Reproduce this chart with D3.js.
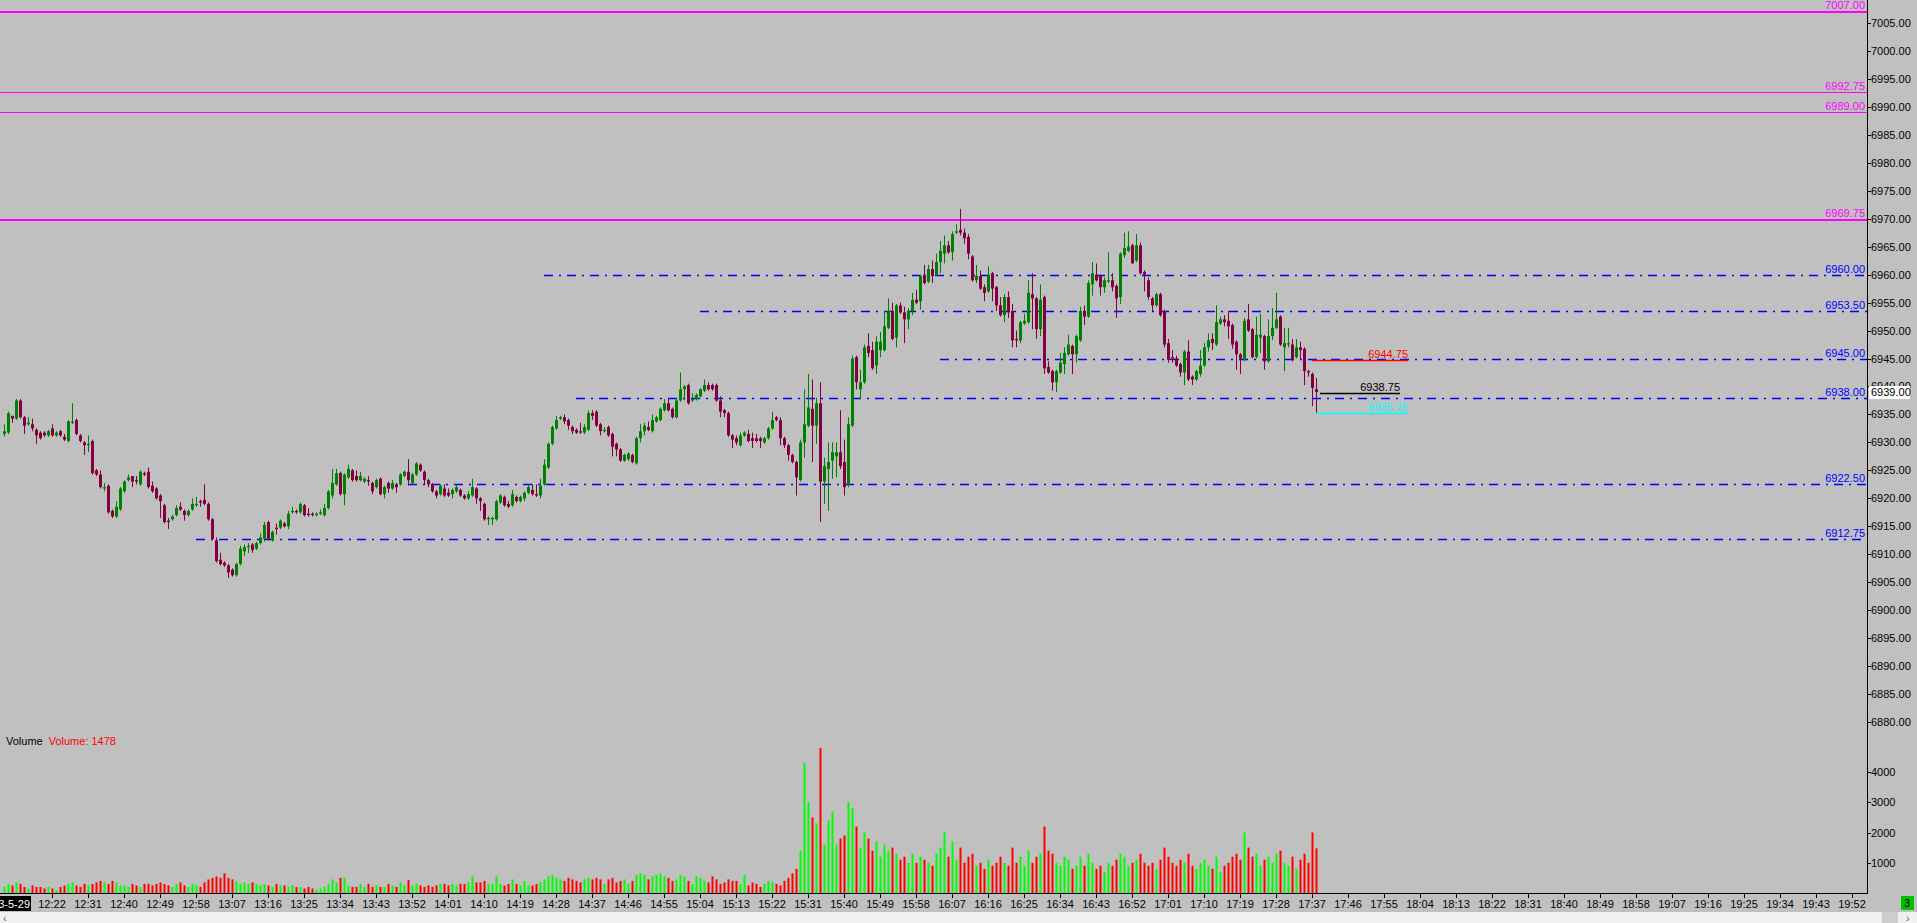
<!DOCTYPE html>
<html><head><meta charset="utf-8">
<script src="https://cdn.jsdelivr.net/npm/d3@7"></script>
<style>
html,body{margin:0;padding:0;background:#c0c0c0;overflow:hidden}
svg{display:block}
text{font-family:"Liberation Sans",Arial,sans-serif;font-size:11px}
</style></head><body>
<svg id="c" width="1917" height="923"></svg>
<script>
const sessionDate = "2023-5-29";
const firstBarTime = "12:10";
const opens = [6931.5,6931.75,6934.75,6934.25,6937.5,6934.5,6933.25,6933.25,6932.25,6931.75,
6931.75,6931.25,6932.5,6931.25,6932,6931,6930.25,6933.5,6934,6931.25,
6930,6929.5,6930.25,6925,6924.25,6921.75,6922.25,6917.75,6916.75,6918,
6921.25,6923.25,6924,6923.25,6922.5,6924.5,6924.75,6922.25,6921.75,6920.5,
6918.75,6916,6916.25,6917,6918.5,6917.75,6917,6918,6918.75,6919.5,
6919.75,6919,6916.25,6912.5,6909,6908.5,6908,6907.25,6906.25,6908.25,
6910.5,6911.25,6911.75,6911,6912,6912.75,6915.75,6912.5,6914.75,6914.75,
6915.5,6915,6917.5,6917.75,6917.5,6918.75,6917.25,6917.25,6917,6917.25,
6917,6918.25,6920.5,6922.5,6924.5,6920.75,6923.75,6925,6924,6923.25,
6923,6923.25,6922.75,6922,6923.5,6920.75,6922.75,6921.75,6922.5,6922.5,
6924,6924.75,6922.75,6924.25,6926,6924.75,6923.25,6922.5,6921.25,6920.75,
6921.75,6921,6920.75,6921.25,6921.5,6920.5,6920,6920.5,6921.75,6920,
6919,6916.25,6916.25,6916.25,6919.25,6920.25,6919,6918.75,6920.25,6919.5,
6920,6921,6921.5,6920.75,6920.5,6922.5,6925.5,6929.75,6932.5,6934.25,
6934.5,6934,6932.75,6932.25,6932,6931.75,6932.25,6935.25,6935.5,6933.25,
6932,6932.75,6931.5,6929.75,6928.75,6926.75,6927,6927.75,6926.25,6930.75,
6932,6932.75,6932,6933.75,6934,6935.75,6937,6936,6934.5,6937.5,
6939.5,6940.25,6937.5,6937.75,6938.25,6939.25,6940.25,6940.25,6940.25,6937.5,
6935.75,6935.25,6931.25,6930.75,6929.5,6931.25,6931.5,6930.75,6930.75,6930.75,
6930,6930.75,6932.5,6934.5,6934,6930.75,6929.5,6927.75,6926.5,6923.25,
6930,6933,6936,6933,6937,6923,6925.25,6926.75,6927.5,6928.25,
6926.5,6922.5,6933,6945.25,6939.5,6940.75,6947.25,6946.5,6943.75,6946.5,
6946.5,6950.5,6953.5,6948.75,6954.5,6953.25,6952,6953.5,6955.5,6955.25,
6960,6958.75,6961,6960,6962.25,6963.75,6965.25,6964,6967.5,6968,
6967.5,6966.75,6963.25,6959,6959.75,6957.75,6957,6960.25,6957.75,6954.5,
6952.75,6956,6953.5,6948.5,6948.25,6951.25,6951.5,6956.5,6955.75,6950.25,
6956,6943.5,6942.75,6940.75,6942.5,6944,6945.75,6947.25,6945.75,6948.25,
6953.5,6952.5,6958.25,6960,6959.75,6957.75,6958.75,6959,6958,6956,
6963.5,6964.25,6965.25,6962.5,6965.25,6960.5,6959,6955.75,6954.5,6956.5,
6953.5,6947.75,6945.25,6945,6944,6942.5,6946.25,6941.75,6941.25,6942.25,
6943.75,6947,6948.5,6947.5,6951.25,6952,6951.75,6951,6948,6945.75,
6944.75,6952,6950.25,6945.25,6948.75,6949,6944.5,6949,6950.5,6952.5,
6947,6947.5,6947.5,6945.25,6947,6946.75,6942.75,6942.25,6939.5];
const highs = [6933.25,6935.5,6934.75,6937.75,6937.75,6934.75,6934.5,6934.25,6932.5,6932,
6932,6932.25,6933.25,6932,6932.25,6931.5,6934,6937,6934.25,6931.5,
6930.25,6931.25,6930.5,6925.25,6925,6922.75,6922.5,6918,6919.5,6922,
6923.25,6924.25,6924,6924,6925,6924.75,6925.5,6923,6922,6920.75,
6919,6916.5,6917,6918.75,6919.25,6918,6918,6920,6920.25,6919.75,
6922.5,6919.25,6916.5,6913,6910.25,6908.75,6908.25,6907.5,6908.5,6911.5,
6911.75,6912,6912,6912.25,6913.75,6915.75,6916,6914.25,6915.5,6916.25,
6915.75,6917.75,6918.5,6918,6919.25,6919,6918.25,6917.5,6917.5,6918,
6919,6921.5,6925.25,6925.25,6924.75,6924.5,6926,6925.25,6925,6924.75,
6923.75,6924,6923,6923.5,6923.75,6922.25,6923,6923.25,6922.75,6924.5,
6925,6927,6924.5,6926.5,6926.25,6925,6923.5,6922.75,6921.5,6922.5,
6922.5,6921.75,6921.75,6922.5,6921.75,6920.75,6921.25,6923.5,6922,6920.25,
6919.25,6916.75,6916.75,6919.75,6920.75,6920.5,6919.5,6921.5,6920.5,6920.5,
6921.25,6922.5,6922.5,6922.5,6923.5,6927,6930,6933,6934.75,6934.75,
6935,6934.25,6933,6932.5,6933.5,6933.25,6935.75,6935.75,6935.75,6933.5,
6932.75,6933,6931.75,6930,6929,6928,6928.25,6928,6931,6933.25,
6933.5,6933.75,6935,6934.75,6936.25,6937.75,6937.75,6936.25,6937.75,6942.5,
6940.25,6940.5,6938.75,6938.75,6939.75,6941.25,6940.75,6940.5,6940.5,6938.25,
6936,6935.5,6931.5,6931.25,6931.75,6932,6932.25,6931.75,6931.5,6931,
6931,6932.75,6935.5,6934.75,6934.5,6931,6929.75,6928,6926.75,6930.5,
6939.5,6942.25,6941.25,6938,6940.75,6927.25,6930,6930,6930,6935.75,
6930.5,6934.5,6945.5,6945.5,6943,6947.5,6949.5,6948,6949,6949.75,
6953.5,6955.75,6955,6954.75,6955,6954.25,6954,6956.75,6957.25,6960,
6961.75,6961.75,6962.5,6963.75,6966,6967,6966,6967.75,6969,6971.75,
6968.25,6967.25,6963.5,6961.75,6960.75,6958.25,6961.5,6960.5,6958,6956,
6956.5,6957,6954.75,6950,6951.75,6953,6959,6960.25,6956,6958.25,
6956.25,6944.5,6943,6943,6946,6947,6949.25,6947.5,6949.25,6954.25,
6954.5,6959,6962.25,6962,6960,6959.5,6964,6960.25,6958.25,6964,
6967.5,6967.75,6965.5,6967.25,6965.75,6960.75,6959.5,6956,6956.75,6956.75,
6953.75,6948.5,6946.5,6945.5,6944.25,6946.5,6948.25,6942,6943,6946.5,
6947.75,6949.5,6949.5,6954.5,6952.5,6952.75,6953.5,6951.25,6948.25,6946,
6952.25,6954.75,6950.5,6952.5,6953,6949.25,6952,6954,6956.75,6952.75,
6950.5,6950.5,6948.5,6948.5,6948,6947,6943,6942.5,6941.5];
const lows = [6931,6931.5,6933.5,6934,6934.25,6931.5,6933,6932,6929.75,6930.5,
6931,6931,6931,6931,6931,6930.25,6930,6933.25,6931.25,6930,
6927.75,6928.25,6924.25,6924,6921.75,6921.25,6917.25,6916.5,6916.5,6917.75,
6921,6923,6922,6922.5,6922.25,6924,6921.75,6921,6919.75,6916.5,
6915.5,6914.5,6916,6916.75,6917.75,6916,6916.75,6917.75,6918.5,6918.5,
6918.75,6916,6912.5,6908.5,6908,6907.75,6905.75,6906,6906,6908,
6909.75,6910.25,6910.25,6910.75,6911.75,6912.25,6912.5,6912.25,6913.5,6914.5,
6914.75,6914.5,6917.25,6917.25,6917.25,6916.75,6916.75,6916.75,6916.75,6917,
6916.75,6918,6920,6922.25,6920.5,6918.75,6923.5,6923,6923,6923,
6922.75,6922.25,6920.75,6921.75,6920.5,6920,6921,6921.5,6921,6922.25,
6923.75,6922.25,6922.5,6924,6924.75,6922.5,6922,6921,6920,6920.5,
6920.25,6920.25,6920,6921,6920.25,6919.75,6919.75,6920.25,6919,6917.75,
6916,6915.25,6915.25,6916,6919,6918.5,6918.25,6918.5,6919.25,6919.25,
6919.5,6920.75,6920.5,6920.25,6920,6922.25,6925.25,6929.5,6932.25,6934,
6933.25,6932.25,6931.5,6931.5,6931.5,6931.5,6932,6934,6932.75,6931.25,
6931.75,6931,6927.5,6927.5,6926.5,6926.5,6926.75,6926.25,6926,6930,
6931.25,6932,6931.75,6933.5,6933.75,6935.5,6935.5,6934.25,6934.25,6937.25,
6937.5,6936.75,6937.25,6937.5,6938,6939,6939.25,6939.25,6937.25,6934.5,
6934.5,6931,6929,6929.5,6929.25,6931,6930,6929,6930,6929,
6929.75,6930.5,6932.25,6933.75,6929.5,6929,6926.75,6926.25,6920.5,6923,
6927.25,6932.75,6926.5,6929.75,6915.75,6919,6917.75,6923.5,6923.75,6925.25,
6920.5,6922,6932.75,6939.5,6937.75,6940.5,6945.25,6943,6942.25,6945.25,
6946.25,6950.25,6948.25,6947,6953,6947.75,6950.25,6952.75,6954.75,6953.75,
6958.25,6958.5,6958.5,6959.75,6960.25,6962,6963.75,6962.5,6967.25,6967,
6965.5,6962.75,6958.75,6958.5,6957.25,6955.25,6956.75,6955.25,6953.5,6952.5,
6951.5,6952.25,6947,6947,6947.75,6951,6951.25,6950.25,6948.5,6949,
6942.25,6942.25,6939.25,6939,6942.25,6942.25,6945.5,6942.25,6944.25,6948,
6951,6952.25,6956.25,6958.75,6956.25,6956.75,6958.5,6957,6952.25,6954.75,
6963,6964,6962,6962.25,6960,6957,6955.5,6953.5,6954.25,6952.5,
6947,6944.25,6944.25,6943.5,6941.75,6940.25,6941,6940.25,6941,6941.75,
6943.5,6946.25,6946.5,6947.25,6951,6950.75,6948.5,6946.75,6943,6942.25,
6944.5,6949.75,6945,6945,6946,6943,6944.25,6948.25,6950.25,6947.25,
6942.75,6947,6944.5,6945,6944.75,6940.25,6941.75,6936.5,6935.25];
const closes = [6932,6935.25,6934.25,6937.5,6934.5,6933,6933.5,6932.5,6931.25,6930.75,
6931.25,6932,6931.25,6931.75,6931.25,6930.5,6933.75,6933.75,6931.5,6930.25,
6929.5,6929.75,6924.5,6924.25,6922,6922,6917.5,6916.75,6918.5,6921.75,
6923,6923.75,6923,6923,6924.75,6924.25,6922,6921.25,6920,6919.5,
6915.75,6915.75,6916.75,6918.25,6918,6917,6917.75,6919,6919,6919.25,
6919,6916.25,6912.75,6908.75,6908.25,6908,6906.75,6906.25,6908.25,6911,
6911.25,6911.5,6910.75,6912,6913,6915.25,6912.75,6914,6914.5,6916,
6915,6917.25,6917.75,6917.5,6919,6917,6917,6917,6917.25,6917.5,
6918.25,6921.25,6922.75,6924.5,6920.75,6924.25,6925.25,6923.25,6923.25,6924,
6923.5,6923,6921.25,6923.25,6920.75,6922,6921.75,6922.75,6922,6924.25,
6924.75,6923.25,6924.25,6926.25,6925,6923.25,6922.5,6921.25,6920.5,6922.25,
6920.5,6920.5,6921.5,6922,6920.5,6920,6920.75,6922,6920,6919.5,
6916.25,6916.5,6916.5,6919.5,6920.5,6918.75,6918.5,6920.75,6919.5,6920.25,
6921,6922,6920.75,6920.5,6922.25,6926,6929.75,6932.75,6934,6934.5,
6933.75,6933,6932,6931.75,6931.75,6932.75,6935.25,6934.75,6933,6932,
6932.25,6931.25,6929.25,6928.75,6926.75,6927.75,6928,6926.5,6930.75,6932,
6933,6932.25,6934,6934.5,6936,6937,6935.75,6934.5,6937.5,6939.5,
6940,6937,6937.75,6938.5,6939.5,6940.25,6939.5,6939.5,6937.5,6935.5,
6935.25,6931.25,6930.5,6930,6931.25,6931.75,6930.25,6930.25,6930.25,6930.25,
6930.75,6932.5,6934,6934,6930.75,6929.5,6927.75,6926.5,6923.75,6930,
6933.25,6936.25,6933,6937,6923,6925.75,6926.5,6928.25,6928.25,6925.75,
6922,6933.25,6945,6940.75,6940.75,6947,6946,6943.25,6948,6948,
6950.75,6953.5,6948.5,6954.5,6953.25,6952,6953.5,6955.5,6955,6959.75,
6958.5,6961,6959.75,6962.25,6964.25,6965.25,6964,6967.25,6967.75,6967.5,
6966.5,6963.75,6959,6959.75,6957.5,6956.75,6960,6957.5,6954.5,6952.75,
6956,6953.25,6948.25,6948.25,6951.5,6951.75,6956.75,6955.75,6950.25,6955.5,
6943.25,6942.5,6940.75,6942.75,6944.25,6946,6947.5,6945.75,6949,6953.5,
6952.5,6958.5,6960.25,6959,6957.75,6959,6959,6957.75,6955.75,6963.75,
6964.75,6965,6962,6965.25,6960.25,6960,6956,6954.5,6956.5,6952.75,
6947.5,6944.75,6945,6943.75,6942.5,6946.25,6941.25,6941.25,6942.75,6943.75,
6947,6948.25,6947.75,6951.5,6952,6951.5,6950.75,6947.5,6945.75,6945,
6951.75,6950,6945.25,6949.25,6949.25,6944.5,6949,6950.5,6952,6947.5,
6947.75,6947.75,6944.75,6947,6946.5,6942.75,6942.5,6939.75,6939];
const volumes = [200,300,250,350,300,200,150,250,200,200,
150,200,150,100,200,250,300,350,250,200,
300,250,300,350,400,350,300,400,350,250,
250,200,300,250,200,300,300,250,300,350,
300,250,200,300,350,250,200,300,250,200,
350,450,500,550,500,650,500,450,400,300,
350,300,350,300,250,300,250,200,300,250,
250,200,250,200,200,150,200,150,100,150,
200,300,450,350,500,500,250,200,200,300,
200,300,200,250,200,200,300,250,200,350,
250,430,250,300,250,200,250,200,250,300,
300,250,300,250,300,300,350,550,350,350,
400,300,300,550,300,250,300,450,300,250,
400,250,250,300,350,450,550,600,500,450,
400,500,450,400,350,450,500,450,500,450,
300,450,500,350,400,450,300,400,600,650,
600,450,550,600,650,550,500,400,450,600,
550,400,300,550,500,400,350,550,450,300,
350,450,400,400,300,600,250,350,300,200,
300,400,350,300,250,400,500,650,800,1400,
4300,3000,2500,2300,4800,1600,2400,2700,1600,1800,
1900,3000,2800,2200,1500,2000,1800,1400,1700,1200,
1600,1400,1500,1300,1100,1200,1000,1300,1000,1200,
1100,1000,900,1300,1500,2000,1200,1700,1100,1500,
1000,1200,1300,900,1000,800,1100,900,1000,1200,
1000,900,1500,1000,1200,900,1400,1000,1200,1300,
2200,1400,1300,1000,900,1200,1100,800,900,1200,
900,1300,1000,800,900,700,1000,900,1100,1300,
1200,900,1000,1100,1300,1000,900,1000,800,1100,
1500,1200,1000,900,1100,1000,1300,900,800,1000,
1100,900,800,1200,700,900,1000,1200,1300,1100,
2000,1500,1200,1300,900,1100,1200,1000,1300,1400,
1000,900,1200,800,1100,1300,1000,2000,1478];

const timeLabels = ["12:22","12:31","12:40","12:49","12:58","13:07","13:16","13:25","13:34","13:43","13:52",
"14:01","14:10","14:19","14:28","14:37","14:46","14:55","15:04","15:13","15:22","15:31","15:40","15:49",
"15:58","16:07","16:16","16:25","16:34","16:43","16:52","17:01","17:10","17:19","17:28","17:37","17:46",
"17:55","18:04","18:13","18:22","18:31","18:40","18:49","18:58","19:07","19:16","19:25","19:34","19:43","19:52"];
const priceTicks = [6880,6885,6890,6895,6900,6905,6910,6915,6920,6925,6930,6935,6940,6945,6950,6955,6960,6965,6970,6975,6980,6985,6990,6995,7000,7005];
const volumeTicks = [1000,2000,3000,4000];

const magentaLevels = [7007.00, 6992.75, 6989.00, 6969.75];
const blueLevels = [6960.00, 6953.50, 6945.00, 6938.00, 6922.50, 6912.75];
const blueLevelStarts = ["14:25","15:04","16:04","14:33","13:51","12:58"];
const markerLevels = [6944.75, 6938.75, 6935.25];
const lastPrice = 6939.00;
const lastVolume = 1478;

const toMin = s => { const [h,m] = s.split(":").map(Number); return h*60+m; };
const t0 = toMin(firstBarTime);

const svg = d3.select("#c");
const W = 1917, H = 923, axisX = 1867, axisY = 893;

const x = d3.scaleLinear().domain([t0, toMin("19:52")]).range([4, 4 + 4*(toMin("19:52")-t0)]);
const y = d3.scaleLinear().domain([6880, 7005]).range([722, 23]);
const yv = d3.scaleLinear().domain([0, 4000]).range([axisY, 772]);

svg.append("rect").attr("width", W).attr("height", H).attr("fill", "#c0c0c0");

svg.append("clipPath").attr("id","plot").append("rect").attr("x",0).attr("y",0).attr("width",axisX).attr("height",axisY);
const plot = svg.append("g").attr("clip-path","url(#plot)");

// magenta levels
const magStyle = [2,1,1,2];
magentaLevels.forEach((p,k)=>{
  const yy = Math.round(y(p)) + (magStyle[k]===1?0.5:0);
  plot.append("line").attr("x1",0).attr("x2",axisX).attr("y1",yy).attr("y2",yy)
    .attr("stroke","#ff00ff").attr("stroke-width",magStyle[k]);
  plot.append("text").attr("x",axisX-2).attr("y",yy-3).attr("text-anchor","end")
    .attr("fill","#ff00ff").text(p.toFixed(2));
});
// blue dash-dot levels
blueLevels.forEach((p,k)=>{
  const yy = Math.round(y(p)) + 0.5;
  plot.append("line").attr("x1",x(toMin(blueLevelStarts[k]))).attr("x2",axisX).attr("y1",yy).attr("y2",yy)
    .attr("stroke","#0000ff").attr("stroke-width",1.4).attr("stroke-dasharray","9,6,2,6");
  plot.append("text").attr("x",axisX-2).attr("y",yy-3).attr("text-anchor","end")
    .attr("fill","#0000ff").text(p.toFixed(2));
});

// candles
const data = opens.map((o,i)=>({t:t0+i,o,h:highs[i],l:lows[i],c:closes[i],v:volumes[i]}));
const up = d => d.c >= d.o;
const cg = plot.append("g");
cg.selectAll("line.w").data(data).join("line").attr("class","w")
  .attr("x1",d=>Math.round(x(d.t))+0.5).attr("x2",d=>Math.round(x(d.t))+0.5)
  .attr("y1",d=>y(d.h)).attr("y2",d=>y(d.l))
  .attr("stroke",d=>up(d)?"#008000":"#800040").attr("stroke-width",1);
cg.selectAll("rect.b").data(data).join("rect").attr("class","b")
  .attr("x",d=>Math.round(x(d.t))-1).attr("width",3)
  .attr("y",d=>y(Math.max(d.o,d.c)))
  .attr("height",d=>Math.max(1, Math.abs(y(d.o)-y(d.c))))
  .attr("fill",d=>up(d)?"#008000":"#800040");

// volume
plot.append("g").selectAll("rect").data(data).join("rect")
  .attr("x",d=>Math.round(x(d.t))-0.5).attr("width",2)
  .attr("y",d=>yv(d.v)).attr("height",d=>axisY - yv(d.v))
  .attr("fill",d=>up(d)?"#00ff00":"#ff0000");

// marker levels near last bar
const markerColors = ["#ff0000","#000000","#00ffff"];
const markerSpan = [["17:37","18:01"],["17:39","17:59"],["17:38","18:01"]];
markerLevels.forEach((p,k)=>{
  const yy = Math.round(y(p))+0.5;
  plot.append("line").attr("x1",x(toMin(markerSpan[k][0]))).attr("x2",x(toMin(markerSpan[k][1])))
    .attr("y1",yy).attr("y2",yy).attr("stroke",markerColors[k]).attr("stroke-width",1.5);
  plot.append("text").attr("x",x(toMin(markerSpan[k][1]))).attr("y",yy-3).attr("text-anchor","end")
    .attr("fill",markerColors[k]).attr("font-size","12px").text(p.toFixed(2));
});

// volume label
const vl = svg.append("text").attr("x",6).attr("y",745);
vl.append("tspan").attr("fill","#000").text("Volume");
vl.append("tspan").attr("fill","#ff0000").attr("dx",6).text("Volume: " + lastVolume);

// right axis
svg.append("line").attr("x1",axisX+0.5).attr("x2",axisX+0.5).attr("y1",0).attr("y2",axisY+0.5).attr("stroke","#000");
const ra = svg.append("g");
ra.selectAll("line.pt").data(priceTicks).join("line").attr("class","pt")
  .attr("x1",axisX).attr("x2",axisX+4).attr("y1",d=>Math.round(y(d))+0.5).attr("y2",d=>Math.round(y(d))+0.5).attr("stroke","#000");
ra.selectAll("text.pt").data(priceTicks).join("text").attr("class","pt")
  .attr("x",axisX+4).attr("y",d=>y(d)+4).attr("fill","#000").text(d=>d.toFixed(2));
ra.selectAll("line.vt").data(volumeTicks).join("line").attr("class","vt")
  .attr("x1",axisX).attr("x2",axisX+4).attr("y1",d=>Math.round(yv(d))+0.5).attr("y2",d=>Math.round(yv(d))+0.5).attr("stroke","#000");
ra.selectAll("text.vt").data(volumeTicks).join("text").attr("class","vt")
  .attr("x",axisX+4).attr("y",d=>yv(d)+4).attr("fill","#000").text(d=>d);
// last price box
svg.append("rect").attr("x",axisX+2).attr("y",y(lastPrice)-6).attr("width",41).attr("height",13).attr("fill","#fff");
svg.append("text").attr("x",axisX+4).attr("y",y(lastPrice)+4).attr("fill","#000").text(lastPrice.toFixed(2));

// bottom axis
svg.append("line").attr("x1",0).attr("x2",axisX+1).attr("y1",axisY+0.5).attr("y2",axisY+0.5).attr("stroke","#000");
const ba = svg.append("g");
ba.selectAll("line").data(timeLabels).join("line")
  .attr("x1",d=>Math.round(x(toMin(d)))+0.5).attr("x2",d=>Math.round(x(toMin(d)))+0.5)
  .attr("y1",axisY).attr("y2",axisY+5).attr("stroke","#000");
ba.selectAll("text").data(timeLabels).join("text")
  .attr("x",d=>x(toMin(d))).attr("y",axisY+15).attr("text-anchor","middle").attr("fill","#000").text(d=>d);
// date tag
svg.append("clipPath").attr("id","dclip").append("rect").attr("x",0).attr("y",896).attr("width",31).attr("height",15);
const dg = svg.append("g").attr("clip-path","url(#dclip)");
dg.append("rect").attr("x",0).attr("y",896).attr("width",31).attr("height",15).attr("fill","#000");
dg.append("text").attr("x",30).attr("y",908).attr("text-anchor","end").attr("fill","#fff").text(sessionDate);

// bottom scroll strip
svg.append("rect").attr("x",0).attr("y",912).attr("width",W).attr("height",11).attr("fill","#f0f0f0");
svg.append("text").attr("x",3).attr("y",922).attr("fill","#606060").text("‹");
svg.append("rect").attr("x",1882).attr("y",912).attr("width",16).attr("height",11).attr("fill","#cdcdcd");
svg.append("text").attr("x",1906).attr("y",922).attr("fill","#606060").text("›");
svg.append("rect").attr("x",1901).attr("y",896).attr("width",13).attr("height",14).attr("fill","#00c000");
svg.append("text").attr("x",1904).attr("y",907).attr("fill","#000").text("3");
</script>
</body></html>
